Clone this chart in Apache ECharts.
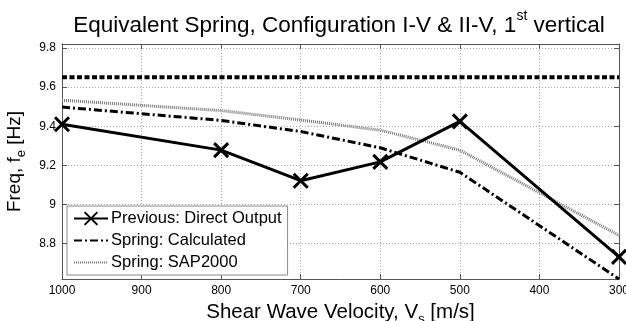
<!DOCTYPE html>
<html><head><meta charset="utf-8">
<script src="https://cdn.jsdelivr.net/npm/echarts@6/dist/echarts.min.js"></script>
<style>html,body{margin:0;padding:0;background:#fff}#c{width:626px;height:321px}</style>
</head><body><div id="c"></div>
<script>
const velocities = [1000, 800, 700, 600, 500, 300];
const previousDirect = [9.41, 9.278, 9.122, 9.218, 9.425, 8.733];
const springCalculated = [9.498, 9.43, 9.373, 9.29, 9.165, 8.62];
const springSAP2000 = [9.533, 9.48, 9.432, 9.38, 9.278, 8.843];
const referenceVelocities = [1000, 300];
const referenceLevel = [9.65, 9.65];
const xTicks = [1000, 900, 800, 700, 600, 500, 400, 300];
const yTicks = [8.8, 9, 9.2, 9.4, 9.6, 9.8];

const pair = (xs, ys) => xs.map((x, i) => [x, ys[i]]);
const font = 'Liberation Sans, Arial, sans-serif';
const chart = echarts.init(document.getElementById('c'));
const xMark = 'path://M0,0L10,10M10,0L0,10';

const axisCommon = {
  axisLine: { show: true, lineStyle: { color: '#555', width: 1 } },
  axisTick: { show: true, inside: true, length: 5, lineStyle: { color: '#555' } },
};

chart.setOption({
  animation: false,
  title: {
    text: '{a|Equivalent Spring, Configuration I-V & II-V, 1}{s|st}{a| vertical}',
    left: 334, textAlign: 'center', top: 4,
    textStyle: { rich: {
      a: { fontFamily: font, fontSize: 22.5, fontWeight: 'normal', color: '#000', verticalAlign: 'bottom', lineHeight: 28 },
      s: { fontFamily: font, fontSize: 14, fontWeight: 'normal', color: '#000', verticalAlign: 'top', lineHeight: 28, padding: [0, 0, 12, 0] }
    } }
  },
  grid: { left: 62, right: 7, top: 44, bottom: 42, containLabel: false, outerBoundsMode: 'none' },
  legend: {
    orient: 'vertical', left: 67, top: 206,
    backgroundColor: '#fff', borderColor: '#888', borderWidth: 1,
    padding: [4, 6, 4, 6], itemGap: 5, itemWidth: 34, itemHeight: 16,
    textStyle: { fontFamily: font, fontSize: 16.5, color: '#000', padding: [0, 0, 0, -2] },
    data: [
      { name: 'Previous: Direct Output' },
      { name: 'Spring: Calculated', itemStyle: { opacity: 0 } },
      { name: 'Spring: SAP2000', itemStyle: { opacity: 0 } }
    ]
  },
  xAxis: [{
    type: 'value', inverse: true, min: 300, max: 1000, interval: 100,
    name: '{a|Shear Wave Velocity, V}{s|s}{a| [m/s]}', nameLocation: 'middle', nameGap: 7,
    nameTextStyle: { rich: {
      a: { fontFamily: font, fontSize: 20.5, color: '#000' },
      s: { fontFamily: font, fontSize: 13, color: '#000', padding: [15, 0, 0, 0] }
    } },
    axisLabel: { fontFamily: font, fontSize: 12, color: '#000', margin: 6,
      formatter: v => String(v) },
    splitLine: { show: true, lineStyle: { color: '#aaa', type: [1, 2], width: 1 } },
    ...axisCommon
  }, {
    type: 'value', inverse: true, min: 300, max: 1000, interval: 100, position: 'top',
    axisLabel: { show: false }, splitLine: { show: false }, ...axisCommon
  }],
  yAxis: [{
    type: 'value', min: 8.62, max: 9.82,
    name: '{a|Freq, f}{s|e}{a| [Hz]}', nameLocation: 'middle', nameGap: 29, nameRotate: 90,
    nameTextStyle: { rich: {
      a: { fontFamily: font, fontSize: 19, color: '#000' },
      s: { fontFamily: font, fontSize: 13, color: '#000', padding: [14, 0, 0, 0] }
    } },
    axisLabel: { fontFamily: font, fontSize: 12, color: '#000', margin: 6,
      customValues: yTicks, formatter: v => String(Math.round(v * 10) / 10) },
    axisTick: { show: true, inside: true, length: 5, customValues: yTicks, lineStyle: { color: '#555' } },
    axisLine: { show: true, lineStyle: { color: '#555', width: 1 } },
    splitLine: { show: true, lineStyle: { color: '#aaa', type: [1, 2], width: 1 } }
  }, {
    type: 'value', min: 8.62, max: 9.82, position: 'right',
    axisLabel: { show: false }, splitLine: { show: false },
    axisTick: { show: true, inside: true, length: 5, customValues: yTicks, lineStyle: { color: '#555' } },
    axisLine: { show: true, lineStyle: { color: '#555', width: 1 } }
  }],
  series: [
    {
      name: 'Reference', type: 'line', data: pair(referenceVelocities, referenceLevel),
      symbol: 'none', lineStyle: { color: '#000', width: 4, type: [5, 2.5] }, z: 2
    },
    {
      name: 'Spring: SAP2000', type: 'line', data: pair(velocities, springSAP2000),
      symbol: 'none', itemStyle: { color: '#777' },
      lineStyle: { color: '#777', width: 3, type: [1, 1] }, z: 3
    },
    {
      name: 'Spring: Calculated', type: 'line', data: pair(velocities, springCalculated),
      symbol: 'none', itemStyle: { color: '#000' },
      lineStyle: { color: '#000', width: 3, type: [8, 3, 2, 3] }, z: 4
    },
    {
      name: 'Previous: Direct Output', type: 'line', data: pair(velocities, previousDirect),
      symbol: xMark, symbolSize: 14, showAllSymbol: true,
      itemStyle: { color: '#000', borderColor: '#000', borderWidth: 3 },
      lineStyle: { color: '#000', width: 3 }, z: 5
    }
  ]
});
</script></body></html>
